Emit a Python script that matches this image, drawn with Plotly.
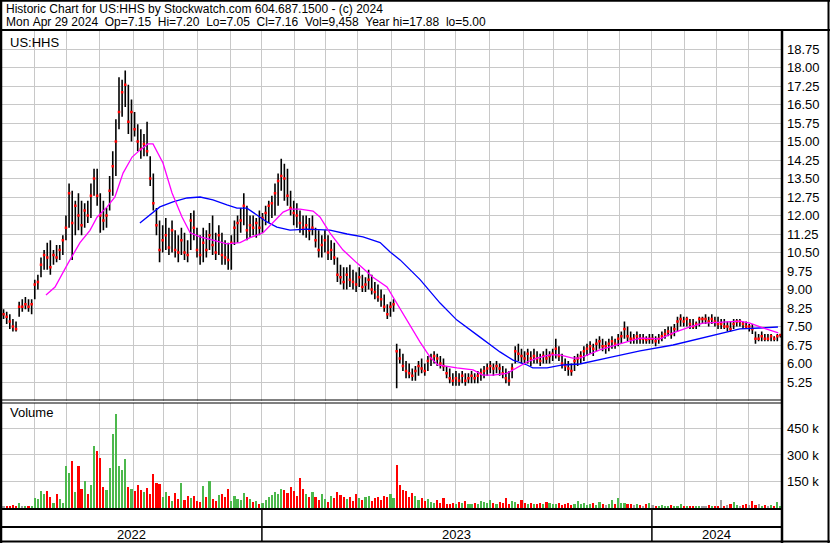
import plotly.graph_objects as go

W, H = 830, 543

# ---------------- data (one bar per two sessions) ----------------
high = [8.2, 8.1, 8.0, 7.8, 7.7, 8.5, 8.6, 8.7, 8.6, 8.6,
        9.4, 9.6, 10.3, 10.6, 10.9, 11.0, 10.6, 10.8, 10.8, 11.2,
        12.0, 13.3, 13.0, 12.6, 12.9, 12.6, 12.5, 12.6, 13.3, 13.9,
        13.9, 12.9, 12.6, 12.3, 13.6, 14.6, 15.9, 17.6, 17.5, 17.88,
        17.3, 16.7, 16.2, 15.7, 15.5, 15.3, 15.8, 14.4, 13.7, 12.3,
        11.8, 11.6, 11.9, 11.5, 11.8, 11.4, 11.2, 11.5, 11.3, 11.0,
        12.1, 12.2, 11.5, 11.2, 11.5, 11.4, 11.7, 12.0, 11.3, 11.6,
        11.3, 11.0, 10.9, 11.2, 11.8, 12.0, 12.3, 12.9, 12.4, 12.0,
        12.0, 11.9, 12.2, 12.1, 12.4, 12.6, 12.8, 13.3, 13.7, 14.3,
        14.1, 13.9, 13.0, 12.6, 12.5, 12.2, 12.0, 12.0, 11.9, 12.0,
        11.5, 11.4, 11.2, 11.4, 11.2, 11.0, 10.9, 10.3, 10.0, 9.9,
        9.9, 10.0, 9.8, 9.7, 9.9, 9.6, 9.5, 9.8, 9.6, 9.3,
        9.2, 9.0, 8.8, 8.4, 8.5, 8.6, 6.8, 6.6, 6.4, 6.1,
        6.0, 5.8, 5.9, 6.1, 6.2, 6.0, 6.3, 6.4, 6.5, 6.4,
        6.3, 6.2, 5.9, 5.8, 5.6, 5.7, 5.6, 5.7, 5.6, 5.6,
        5.7, 5.6, 5.7, 5.8, 5.9, 6.0, 6.1, 6.0, 6.1, 6.0,
        5.9, 5.8, 5.7, 6.0, 6.7, 6.8, 6.6, 6.5, 6.6, 6.5,
        6.6, 6.5, 6.4, 6.5, 6.6, 6.5, 6.6, 7.0, 6.7, 6.4,
        6.2, 6.1, 6.0, 6.3, 6.4, 6.5, 6.7, 6.8, 6.9, 6.8,
        7.0, 7.1, 7.0, 6.9, 7.0, 7.1, 7.0, 7.2, 7.3, 7.7,
        7.5, 7.3, 7.2, 7.3, 7.2, 7.2, 7.1, 7.2, 7.2, 7.1,
        7.2, 7.3, 7.4, 7.5, 7.5, 7.6, 7.9, 8.0, 7.9, 7.9,
        7.8, 7.8, 7.7, 7.9, 7.9, 8.0, 7.9, 8.0, 7.9, 7.9,
        7.8, 7.8, 7.7, 7.7, 7.8, 7.8, 7.8, 7.7, 7.7, 7.6,
        7.6, 7.3, 7.2, 7.3, 7.2, 7.2, 7.2, 7.1, 7.2, 7.20]

low = [7.8, 7.6, 7.4, 7.3, 7.3, 7.9, 8.1, 8.2, 8.1, 8.0,
       8.6, 9.0, 9.5, 9.8, 9.8, 9.6, 10.0, 10.1, 10.2, 10.4,
       11.0, 11.5, 10.2, 11.2, 11.4, 11.2, 11.5, 11.7, 11.9, 12.8,
       12.4, 11.3, 11.4, 11.5, 12.2, 12.8, 13.6, 15.5, 16.0, 16.4,
       15.3, 15.0, 15.2, 14.6, 14.3, 14.4, 14.4, 13.2, 12.2, 11.2,
       10.1, 10.5, 10.6, 10.4, 10.5, 10.3, 10.1, 10.4, 10.2, 10.1,
       10.6, 11.0, 10.3, 10.0, 10.1, 10.3, 10.6, 10.4, 10.2, 10.4,
       10.0, 10.0, 9.8, 9.8, 10.8, 10.9, 11.3, 11.6, 11.0, 11.1,
       11.2, 11.1, 11.2, 11.3, 11.6, 11.7, 11.9, 12.0, 12.4, 13.0,
       12.6, 12.4, 12.0, 11.6, 11.5, 11.3, 11.2, 11.1, 11.0, 11.2,
       10.7, 10.3, 10.3, 10.5, 10.2, 10.2, 10.0, 9.3, 9.2, 9.0,
       9.0, 9.1, 9.0, 8.9, 9.1, 8.9, 8.9, 9.0, 8.8, 8.6,
       8.5, 8.3, 8.1, 7.8, 7.9, 8.1, 5.0, 6.0, 5.7, 5.4,
       5.4, 5.3, 5.3, 5.5, 5.6, 5.5, 5.7, 5.9, 6.0, 5.9,
       5.8, 5.7, 5.4, 5.2, 5.1, 5.1, 5.1, 5.2, 5.1, 5.2,
       5.2, 5.2, 5.2, 5.3, 5.4, 5.5, 5.6, 5.5, 5.6, 5.5,
       5.4, 5.2, 5.1, 5.4, 6.0, 6.1, 6.0, 6.0, 6.0, 5.9,
       6.0, 6.0, 5.9, 6.0, 6.0, 6.0, 6.1, 6.2, 6.1, 5.8,
       5.7, 5.5, 5.5, 5.7, 5.9, 6.0, 6.1, 6.3, 6.4, 6.3,
       6.5, 6.6, 6.5, 6.4, 6.5, 6.6, 6.6, 6.7, 6.8, 7.0,
       6.9, 6.8, 6.8, 6.8, 6.8, 6.8, 6.8, 6.8, 6.8, 6.7,
       6.8, 6.9, 7.0, 7.1, 7.0, 7.1, 7.3, 7.5, 7.5, 7.5,
       7.4, 7.4, 7.4, 7.5, 7.6, 7.6, 7.5, 7.6, 7.5, 7.4,
       7.4, 7.4, 7.3, 7.3, 7.4, 7.5, 7.5, 7.4, 7.4, 7.3,
       7.2, 6.8, 6.9, 6.9, 6.9, 6.9, 6.9, 6.9, 6.9, 7.05]

close = [8.0, 7.9, 7.7, 7.5, 7.4, 8.3, 8.3, 8.4, 8.3, 8.4,
         9.2, 9.3, 10.0, 10.4, 10.3, 9.9, 10.4, 10.3, 10.6, 11.0,
         11.5, 12.9, 11.7, 12.4, 12.0, 11.6, 12.2, 12.0, 12.8, 13.5,
         12.8, 12.0, 11.8, 12.0, 13.0, 14.0, 15.0, 16.2, 17.0, 17.3,
         15.8, 16.2, 15.5, 15.0, 14.7, 14.9, 14.6, 13.5, 12.5, 11.6,
         10.6, 11.0, 11.2, 10.7, 11.4, 10.6, 10.5, 11.0, 10.5, 10.4,
         11.8, 11.5, 10.6, 10.4, 10.9, 10.6, 11.2, 10.8, 10.5, 11.2,
         10.4, 10.3, 10.2, 10.9, 11.5, 11.7, 11.8, 12.4, 11.4, 11.6,
         11.5, 11.7, 11.5, 11.9, 12.1, 12.4, 12.5, 12.9, 13.4, 13.6,
         13.5, 12.8, 12.3, 12.1, 12.0, 11.7, 11.5, 11.6, 11.4, 11.5,
         11.0, 10.6, 10.8, 11.0, 10.5, 10.6, 10.3, 9.6, 9.5, 9.3,
         9.6, 9.4, 9.3, 9.2, 9.5, 9.1, 9.2, 9.4, 9.0, 8.9,
         8.7, 8.6, 8.3, 8.0, 8.3, 8.4, 6.5, 6.2, 5.9, 5.7,
         5.6, 5.5, 5.7, 5.9, 5.8, 5.7, 6.1, 6.2, 6.3, 6.2,
         6.0, 5.9, 5.6, 5.4, 5.3, 5.4, 5.3, 5.5, 5.3, 5.4,
         5.5, 5.4, 5.5, 5.6, 5.7, 5.8, 5.9, 5.8, 5.9, 5.8,
         5.6, 5.4, 5.3, 5.8, 6.5, 6.4, 6.3, 6.2, 6.4, 6.2,
         6.3, 6.2, 6.1, 6.3, 6.2, 6.3, 6.4, 6.6, 6.3, 6.0,
         5.9, 5.8, 5.7, 6.1, 6.2, 6.3, 6.5, 6.6, 6.7, 6.6,
         6.8, 6.9, 6.7, 6.7, 6.8, 6.9, 6.8, 7.0, 7.1, 7.4,
         7.1, 7.0, 7.0, 7.1, 7.0, 7.0, 6.95, 7.0, 7.0, 6.9,
         7.0, 7.1, 7.2, 7.3, 7.2, 7.4, 7.7, 7.8, 7.7, 7.8,
         7.6, 7.5, 7.6, 7.8, 7.8, 7.8, 7.7, 7.8, 7.7, 7.6,
         7.6, 7.5, 7.5, 7.4, 7.6, 7.7, 7.7, 7.6, 7.5, 7.5,
         7.4, 7.0, 7.0, 7.1, 7.0, 7.0, 7.1, 7.0, 7.1, 7.16]

volume_k = [8, 12, 6, 15, 10, 28, 9, 12, 7, 14,
            55, 50, 98, 80, 98, 60, 30, 78, 50, 30,
            237, 196, 265, 90, 237, 110, 150, 80, 130, 352,
            323, 283, 120, 100, 225, 421, 531, 237, 213, 277,
            120, 110, 95, 130, 100, 90, 115, 80, 190, 140,
            135, 60, 90, 70, 40, 85, 50, 144, 45, 70,
            55, 70, 40, 35, 127, 60, 155, 50, 40, 75,
            80, 60, 110, 40, 70, 50, 45, 85, 60, 50,
            35, 40, 20, 30, 45, 60, 75, 90, 80, 110,
            100, 85, 120, 95, 70, 167, 110, 80, 60, 90,
            60, 45, 80, 50, 35, 70, 55, 90, 75, 60,
            50, 65, 40, 80, 55, 45, 60, 70, 40, 55,
            60, 45, 70, 63, 80, 55, 242, 130, 104, 98,
            60, 84, 70, 45, 55, 40, 50, 35, 30, 45,
            30, 55, 25, 20, 30, 22, 35, 28, 40, 25,
            20, 30, 25, 40, 35, 28, 45, 30, 25, 35,
            30, 58, 25, 40, 35, 20, 45, 30, 25, 28,
            25, 20, 30, 22, 35, 28, 20, 25, 30, 18,
            22, 30, 18, 25, 40, 20, 28, 15, 22, 30,
            18, 35, 22, 15, 20, 45, 25, 58, 30, 28,
            25, 20, 15, 22, 18, 12, 20, 28, 15, 10,
            10, 15, 8, 12, 18, 10, 14, 20, 12, 9,
            12, 10, 8, 14, 9, 11, 15, 10, 13, 8,
            46, 12, 15, 20, 35, 18, 12, 16, 20, 15,
            38, 15, 20, 12, 18, 10, 15, 12, 35, 9.5]

# moving averages (bar-index positions)
ma_fast_x = [13.6, 16.5, 20.7, 24.5, 27.7, 30.0, 33.2, 35.7, 38.3, 41.2, 43.7, 46.3, 47.9,
             51.1, 54.0, 56.6, 57.2, 59.8, 63.0, 67.1, 71.6, 75.8, 79.0, 83.2, 86.4, 89.6,
             91.8, 95.0, 99.2, 101.4, 104.6, 108.8, 113.3, 118.4, 122.9, 129.3, 133.5, 136.7,
             139.2, 145.3, 150.5, 153.6, 156.9, 161.3, 164.6, 167.8, 171.0, 175.1, 178.3,
             182.4, 184.7, 191.1, 197.5, 204.0, 210.4, 214.6, 220.0, 224.2, 230.6, 236.0,
             239.2, 243.4, 248.3]
ma_fast_y = [8.78, 9.1, 10.07, 10.9, 11.4, 11.94, 12.35, 12.75, 13.72, 14.37, 14.65, 14.9, 14.9,
             14.13, 12.91, 12.1, 11.94, 11.3, 11.13, 11.0, 10.85, 10.9, 11.1, 11.3, 11.7, 12.14,
             12.26, 12.26, 12.18, 11.94, 11.3, 10.6, 10.07, 9.5, 9.1, 7.76, 6.87, 6.26,
             5.94, 5.82, 5.74, 5.53, 5.53, 5.6, 5.82, 6.06, 6.22, 6.35, 6.35,
             6.22, 6.22, 6.55, 6.8, 7.03, 7.0, 7.24, 7.48, 7.64, 7.68, 7.72,
             7.64, 7.44, 7.24]

ma_slow_x = [43.7, 50.1, 54.3, 58.8, 63.0, 67.1, 71.6, 74.8, 78.0, 81.2, 84.4, 87.6, 91.8,
             97.3, 104.6, 110.1, 115.2, 120.7, 123.9, 127.1, 133.5, 139.9, 145.3, 152.7,
             159.1, 163.3, 167.8, 169.6, 174.2, 179.2, 184.7, 194.4, 204.0, 214.6, 225.5,
             231.9, 236.0, 242.4, 248.2]
ma_slow_y = [11.7, 12.35, 12.55, 12.71, 12.75, 12.63, 12.43, 12.3, 12.3, 12.02, 11.74, 11.53, 11.41,
             11.45, 11.41, 11.25, 11.13, 10.9, 10.52, 10.2, 9.4, 8.45, 7.76, 7.07,
             6.47, 6.14, 5.94, 5.82, 5.82, 5.94, 5.98, 6.25, 6.51, 6.75, 7.07,
             7.28, 7.4, 7.44, 7.48]

month_starts = [9.8, 20.3, 30.6, 41.5, 51.4, 62.0, 72.6, 82.8, 93.4, 103.3, 113.6, 124.2,
                134.8, 145.0, 155.6, 166.5, 176.4, 187.0, 197.3, 207.8, 218.1, 228.6, 238.9]
year_labels = ["2022", "2023", "2024"]
year_bounds = [-0.5, 82.8, 207.8, 249.5]

price_ticks = [5.25, 6.00, 6.75, 7.50, 8.25, 9.00, 9.75, 10.50, 11.25, 12.00, 12.75,
               13.50, 14.25, 15.00, 15.75, 16.50, 17.25, 18.00, 18.75]
volume_ticks = [150, 300, 450]
volume_tick_labels = ["150 k", "300 k", "450 k"]

header_1 = "Historic Chart for US:HHS by Stockwatch.com 604.687.1500 - (c) 2024"
header_2 = ("Mon Apr 29 2024  Op=7.15  Hi=7.20  Lo=7.05  Cl=7.16  Vol=9,458  "
            "Year hi=17.88  lo=5.00")

# ---------------- figure ----------------
FONT = "Liberation Sans, Arial, sans-serif"
GRID = "#c8c8c8"


def px_x(x):
    return x / W


def px_y(y):
    return 1 - y / H


idx = list(range(len(close)))

bar_x, bar_y = [], []
for i, (h, l) in enumerate(zip(high, low)):
    bar_x += [i, i, None]
    bar_y += [l, h, None]

vol_colors = []
for i, c in enumerate(close):
    if i == 0 or c == close[i - 1]:
        vol_colors.append("#a0a0a0")
    elif c > close[i - 1]:
        vol_colors.append("#4cb84c")
    else:
        vol_colors.append("#ff0000")

fig = go.Figure()
fig.add_trace(go.Scatter(x=bar_x, y=bar_y, mode="lines",
                         line=dict(color="black", width=1.6), hoverinfo="skip",
                         xaxis="x", yaxis="y"))
fig.add_trace(go.Scatter(x=idx, y=close, mode="markers",
                         marker=dict(symbol="square", size=2.5, color="#ff0000", line=dict(width=0)),
                         xaxis="x", yaxis="y"))
fig.add_trace(go.Scatter(x=ma_slow_x, y=ma_slow_y, mode="lines",
                         line=dict(color="#0000ff", width=1.3), xaxis="x", yaxis="y"))
fig.add_trace(go.Scatter(x=ma_fast_x, y=ma_fast_y, mode="lines",
                         line=dict(color="#ff00ff", width=1.3), xaxis="x", yaxis="y"))
fig.add_trace(go.Bar(x=idx, y=volume_k, marker=dict(color=vol_colors, line=dict(width=0)),
                     width=0.7, xaxis="x2", yaxis="y2"))

x_dom = [px_x(2), px_x(782)]
xcommon = dict(domain=x_dom, range=[-0.5, 249.5], tickvals=month_starts,
               showticklabels=False, showgrid=True, gridcolor=GRID, gridwidth=1,
               zeroline=False, showline=False, ticks="", fixedrange=True)

fig.update_layout(
    width=W, height=H, margin=dict(l=0, r=0, t=0, b=0),
    paper_bgcolor="white", plot_bgcolor="white", showlegend=False,
    font=dict(family=FONT, size=13, color="black"),
    bargap=0,
    xaxis=dict(anchor="y", **xcommon),
    xaxis2=dict(anchor="y2", matches="x", **xcommon),
    yaxis=dict(domain=[px_y(400.5), px_y(30.5)], range=[4.5, 19.5], side="right",
               tickvals=price_ticks, ticktext=[f"{v:.2f}" for v in price_ticks],
               showgrid=True, gridcolor=GRID, zeroline=False, showline=False,
               ticks="", ticklabelstandoff=4, anchor="x", fixedrange=True,
               tickfont=dict(family=FONT, size=13, color="black")),
    yaxis2=dict(domain=[px_y(509), px_y(403)], range=[-5.7, 594.3], side="right",
                tickvals=volume_ticks, ticktext=volume_tick_labels,
                showgrid=True, gridcolor=GRID, zeroline=False, showline=False,
                ticks="", ticklabelstandoff=4, anchor="x2", fixedrange=True,
                tickfont=dict(family=FONT, size=13, color="black")),
)

shapes = []


def hline(y, x0, x1, w):
    shapes.append(dict(type="line", xref="paper", yref="paper", x0=px_x(x0), x1=px_x(x1),
                       y0=px_y(y), y1=px_y(y), line=dict(color="black", width=w)))


def vline(x, y0, y1, w):
    shapes.append(dict(type="line", xref="paper", yref="paper", x0=px_x(x), x1=px_x(x),
                       y0=px_y(y0), y1=px_y(y1), line=dict(color="black", width=w)))


hline(0.8, 0, 830, 2)       # top
hline(30, 0, 830, 2)        # under header
hline(400, 0, 782, 1)       # price bottom (double line)
hline(403, 0, 782, 1)
hline(509, 0, 782, 2)       # volume bottom
hline(527, 0, 782, 2)
hline(541.5, 0, 830, 2)     # bottom
vline(1, 0, 543, 2.5)       # left
vline(782, 30, 543, 2.5)    # axis separator
vline(828.5, 0, 543, 2)     # right

for b in year_bounds[1:-1]:
    shapes.append(dict(type="line", xref="x", yref="paper", x0=b, x1=b,
                       y0=px_y(541), y1=px_y(509), line=dict(color="black", width=1.5)))

annotations = [
    dict(text=header_1.replace(" ", "\u00a0"), x=px_x(4), y=px_y(8.5), xref="paper", yref="paper",
         xanchor="left", yanchor="middle", showarrow=False, font=dict(size=12)),
    dict(text=header_2.replace(" ", "\u00a0"), x=px_x(4), y=px_y(22), xref="paper", yref="paper",
         xanchor="left", yanchor="middle", showarrow=False, font=dict(size=12)),
    dict(text="US:HHS", x=px_x(8), y=px_y(42), xref="paper", yref="paper",
         xanchor="left", yanchor="middle", showarrow=False, font=dict(size=13)),
    dict(text="Volume", x=px_x(8), y=px_y(413), xref="paper", yref="paper",
         xanchor="left", yanchor="middle", showarrow=False, font=dict(size=13)),
]
for k, lab in enumerate(year_labels):
    mid = (year_bounds[k] + year_bounds[k + 1]) / 2
    annotations.append(dict(text=lab, x=mid, y=px_y(534.5), xref="x", yref="paper",
                            xanchor="center", yanchor="middle", showarrow=False,
                            font=dict(size=13)))

fig.update_layout(shapes=shapes, annotations=annotations)

fig.write_html("out.html", config={"displayModeBar": False},
               post_script="document.body.style.margin='0';document.body.style.padding='0';")
